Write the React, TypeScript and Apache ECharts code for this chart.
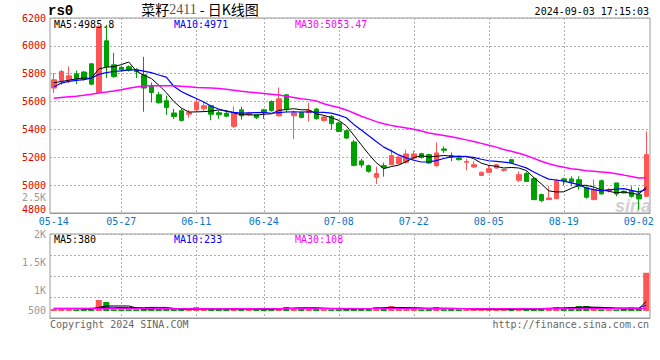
import React, { useEffect, useRef } from 'react';
import * as echarts from 'echarts';

const dates = [
  '05-14','05-15','05-16','05-17','05-20','05-21','05-22','05-23','05-24','05-27',
  '05-28','05-29','05-30','05-31','06-03','06-04','06-05','06-06','06-07','06-11',
  '06-12','06-13','06-14','06-17','06-18','06-19','06-20','06-21','06-24','06-25',
  '06-26','06-27','06-28','07-01','07-02','07-03','07-04','07-05','07-08','07-09',
  '07-10','07-11','07-12','07-15','07-16','07-17','07-18','07-19','07-22','07-23',
  '07-24','07-25','07-26','07-29','07-30','07-31','08-01','08-02','08-05','08-06',
  '08-07','08-08','08-09','08-12','08-13','08-14','08-15','08-16','08-19','08-20',
  '08-21','08-22','08-23','08-26','08-27','08-28','08-29','08-30','09-02','09-03'
];

const opens = [
  5697,5751,5756,5799,5812,5871,5665,6036,5864,5846,
  5850,5828,5792,5708,5649,5606,5518,5534,5509,5541,
  5548,5570,5520,5516,5422,5541,5505,5505,5541,5601,
  5498,5649,5498,5522,5520,5546,5465,5493,5446,5391,
  5310,5174,5140,5056,5140,5147,5154,5164,5195,5226,
  5219,5140,5260,5212,5197,5164,5131,5070,5092,5123,
  5106,5183,5035,5083,5047,4932,4896,4903,5045,5045,
  5039,4984,4896,5032,4961,5016,4956,4961,4932,4920
];
const closes = [
  5756,5816,5785,5761,5761,5725,6138,5852,5780,5828,
  5824,5814,5697,5665,5591,5558,5493,5465,5520,5594,
  5570,5509,5505,5495,5518,5498,5516,5484,5527,5536,
  5620,5546,5518,5486,5534,5477,5489,5441,5386,5338,
  5142,5145,5099,5083,5125,5212,5202,5224,5224,5199,
  5159,5231,5250,5201,5183,5169,5147,5092,5118,5147,
  5113,5164,5075,5027,4896,4889,4908,5034,5032,5023,
  4992,4913,4968,4937,4968,4937,4944,4920,4901,5219
];
const lows = [
  5661,5720,5733,5726,5750,5718,5665,5768,5771,5814,
  5815,5768,5527,5594,5585,5505,5475,5457,5484,5527,
  5527,5466,5477,5488,5410,5470,5495,5475,5475,5527,
  5493,5522,5331,5480,5457,5470,5455,5398,5380,5330,
  5135,5126,5090,5009,5061,5145,5150,5154,5183,5190,
  5152,5131,5231,5171,5177,5106,5123,5065,5087,5118,
  5097,5160,5023,5023,4893,4877,4893,4900,4999,4992,
  4968,4903,4893,4932,4948,4920,4940,4910,4825,4915
];
const highs = [
  5804,5828,5852,5823,5820,5876,6150,6150,5950,5857,
  5860,5840,5921,5737,5670,5642,5548,5548,5541,5620,
  5594,5577,5534,5524,5565,5563,5527,5510,5548,5608,
  5701,5652,5536,5527,5591,5555,5498,5505,5455,5398,
  5325,5190,5147,5133,5161,5255,5210,5255,5247,5233,
  5226,5307,5278,5235,5207,5188,5171,5097,5142,5152,
  5116,5188,5099,5099,5059,4939,4992,5045,5054,5063,
  5063,4992,5040,5040,4977,5016,4960,4992,4982,5386
];

const ma5 = [
  5735,5744,5753,5763,5770,5766,5834,5847,5851,5865,
  5884,5820,5789,5766,5718,5665,5601,5554,5525,5526,
  5528,5532,5540,5535,5519,5505,5506,5502,5509,5512,
  5537,5543,5549,5541,5541,5512,5501,5485,5465,5426,
  5359,5290,5222,5161,5119,5133,5144,5169,5197,5212,
  5202,5207,5213,5208,5205,5207,5190,5158,5142,5135,
  5123,5127,5123,5105,5055,5010,4959,4951,4952,4977,
  4998,4999,4986,4967,4956,4945,4951,4941,4934,4985.8
];
const ma10 = [
  5705,5733,5745,5752,5758,5768,5795,5808,5816,5820,
  5827,5827,5818,5808,5791,5775,5710,5672,5646,5622,
  5597,5566,5547,5530,5523,5517,5519,5521,5522,5516,
  5521,5525,5526,5525,5527,5524,5522,5517,5503,5484,
  5436,5396,5354,5313,5273,5246,5217,5196,5179,5166,
  5167,5176,5191,5203,5209,5204,5199,5186,5175,5170,
  5165,5158,5141,5124,5095,5067,5043,5037,5029,5016,
  5004,4979,4968,4959,4966,4971,4975,4963,4950,4971
];
const ma30 = [
  5624,5629,5634,5639,5645,5652,5661,5668,5676,5685,
  5695,5704,5711,5713,5713,5713,5713,5710,5706,5701,
  5699,5697,5694,5689,5682,5674,5668,5663,5658,5653,
  5648,5639,5630,5621,5614,5605,5584,5570,5557,5540,
  5518,5495,5476,5456,5441,5429,5419,5411,5401,5388,
  5375,5365,5357,5347,5336,5325,5313,5300,5286,5273,
  5256,5243,5229,5213,5192,5172,5153,5139,5128,5117,
  5112,5104,5100,5095,5090,5081,5072,5062,5051,5053.47
];

const volumes = [
  80,80,80,68,68,68,440,360,68,68,
  68,68,68,160,68,68,68,68,68,160,
  68,68,68,68,120,68,68,68,68,68,
  120,160,120,120,120,120,68,68,68,80,
  120,107,107,160,140,200,100,80,107,68,
  68,160,68,120,68,68,68,68,68,68,
  68,68,120,68,120,120,120,160,107,160,
  200,200,100,68,68,60,100,140,100,1530
];
const volMa5 = [
  100,100,100,100,75,73,145,201,201,201,
  201,126,68,86,86,86,86,86,68,86,
  86,86,86,94,86,86,86,86,78,78,
  89,107,118,128,128,128,110,99,89,81,
  81,89,96,115,127,143,141,136,125,111,
  85,97,94,97,97,97,78,78,68,68,
  68,68,78,78,89,99,110,118,125,133,
  149,165,153,146,127,99,79,87,94,380
];
const volMa10 = [
  110,110,110,110,110,110,130,150,150,138,
  137,136,134,144,144,144,106,77,77,86,
  86,86,86,81,86,86,86,86,86,82,
  88,97,102,103,103,108,108,108,108,104,
  104,99,98,102,104,112,115,116,120,119,
  114,119,115,111,104,91,88,86,82,82,
  82,73,78,73,78,84,89,98,102,111,
  124,138,136,136,130,124,122,120,120,233
];
const volMa30 = [
  96,96,96,97,97,97,98,98,98,98,
  97,97,97,96,96,96,95,95,95,95,
  95,95,95,94,94,94,94,94,94,94,
  95,95,96,96,97,97,97,98,98,98,
  99,99,99,100,100,100,100,100,99,99,
  99,98,98,98,97,97,97,96,96,96,
  95,95,95,95,95,95,96,96,96,97,
  97,98,98,98,98,97,97,97,97,108
];

const labelDates = ['05-14','05-27','06-11','06-24','07-08','07-22','08-05','08-19','09-02'];
const gridDates = ['05-27','06-11','06-24','07-08','07-22','08-05','08-19'];
const priceMin = 4800;
const priceMax = 6200;
const priceStep = 200;
const volTickValues = [500, 1000, 1500, 2000];
const volTickLabels = ['500', '1K', '1.5K', '2K'];
const mainExtraLabel = '2.5K';

const UP = '#ff5555';
const DOWN = '#00a000';
const MONO = '"DejaVu Sans Mono", "Liberation Mono", monospace';
const GRID_LINE = { color: '#b0b0b0', type: [2, 2] as any, width: 1 };

function buildOption() {
  const last = dates.length - 1;
  const candleData = dates.map((_, i) => [opens[i], closes[i], lows[i], highs[i]]);
  const volData = volumes.map((v, i) => ({
    value: v,
    itemStyle: { color: closes[i] >= opens[i] ? UP : DOWN },
  }));
  const showLabel = (idx: number, val: string) => labelDates.includes(val);
  const showGrid = (idx: number, val: string) => gridDates.includes(val);

  const xBase = {
    type: 'category',
    data: dates,
    boundaryGap: true,
    axisTick: { show: false },
    axisLine: { show: true, lineStyle: { color: '#999', width: 1 } },
    splitLine: { show: true, interval: showGrid, alignWithLabel: true, lineStyle: GRID_LINE },
  };

  const txt = (text: string, x: number, y: number, fill: string, align = 'left', font = `10px ${MONO}`) => ({
    type: 'text',
    x,
    y,
    z: 100,
    silent: true,
    style: {
      text,
      fill,
      font,
      lineHeight: 10,
      align,
      textAlign: align,
      verticalAlign: 'middle',
      textVerticalAlign: 'middle',
    },
  });

  return {
    animation: false,
    backgroundColor: '#ffffff',
    grid: [
      { left: 50, right: 10, top: 18, height: 195, show: true, borderColor: '#999', borderWidth: 1, backgroundColor: 'transparent' },
      { left: 50, right: 10, top: 234, height: 84, show: true, borderColor: '#999', borderWidth: 1, backgroundColor: 'transparent' },
    ],
    xAxis: [
      {
        ...xBase,
        gridIndex: 0,
        axisLabel: {
          show: true,
          interval: showLabel,
          color: '#0a74c8',
          fontFamily: MONO,
          fontSize: 10,
          lineHeight: 10,
          margin: 3,
        },
      },
      {
        ...xBase,
        gridIndex: 1,
        axisLabel: { show: false },
      },
    ],
    yAxis: [
      {
        type: 'value',
        gridIndex: 0,
        min: priceMin,
        max: priceMax,
        interval: priceStep,
        axisLine: { show: false },
        axisTick: { show: false },
        axisLabel: {
          color: '#e00000',
          fontFamily: MONO,
          fontSize: 10,
          lineHeight: 8,
          margin: 4,
          verticalAlignMinLabel: 'bottom',
          formatter: (v: number) => String(v),
        },
        splitLine: { show: true, lineStyle: GRID_LINE },
      },
      {
        type: 'value',
        gridIndex: 1,
        min: volTickValues[0],
        max: volTickValues[volTickValues.length - 1],
        interval: volTickValues[1] - volTickValues[0],
        axisLine: { show: false },
        axisTick: { show: false },
        axisLabel: {
          color: '#999',
          fontFamily: MONO,
          fontSize: 10,
          lineHeight: 16,
          margin: 4,
          verticalAlignMinLabel: 'bottom',
          formatter: (v: number) => {
            const k = volTickValues.indexOf(v);
            return k >= 0 ? volTickLabels[k] : '';
          },
        },
        splitLine: { show: false },
      },
      {
        type: 'value',
        gridIndex: 1,
        position: 'right',
        min: 0,
        max: 4,
        interval: 1,
        axisLine: { show: false },
        axisTick: { show: false },
        axisLabel: { show: false },
        splitLine: { show: true, lineStyle: GRID_LINE },
      },
      {
        type: 'value',
        gridIndex: 1,
        position: 'right',
        show: false,
        min: -280,
        max: 3080,
        splitLine: { show: false },
      },
    ],
    series: [
      {
        type: 'candlestick',
        xAxisIndex: 0,
        yAxisIndex: 0,
        data: candleData,
        barWidth: 5,
        itemStyle: { color: UP, color0: DOWN, borderColor: UP, borderColor0: DOWN, borderWidth: 1 },
      },
      { type: 'line', xAxisIndex: 0, yAxisIndex: 0, data: ma5, symbol: 'none', lineStyle: { color: '#000', width: 1 } },
      { type: 'line', xAxisIndex: 0, yAxisIndex: 0, data: ma10, symbol: 'none', lineStyle: { color: '#0000ff', width: 1.2 } },
      { type: 'line', xAxisIndex: 0, yAxisIndex: 0, data: ma30, symbol: 'none', lineStyle: { color: '#ff00ff', width: 1.5 } },
      { type: 'bar', xAxisIndex: 1, yAxisIndex: 3, data: volData, barWidth: 6 },
      { type: 'line', xAxisIndex: 1, yAxisIndex: 3, data: volMa5, symbol: 'none', lineStyle: { color: '#000', width: 1 } },
      { type: 'line', xAxisIndex: 1, yAxisIndex: 3, data: volMa10, symbol: 'none', lineStyle: { color: '#0000ff', width: 1 } },
      { type: 'line', xAxisIndex: 1, yAxisIndex: 3, data: volMa30, symbol: 'none', lineStyle: { color: '#ff00ff', width: 1.2 } },
    ],
    graphic: [
      {
        type: 'text',
        x: 651,
        y: 206,
        z: 1,
        silent: true,
        style: {
          text: 'sina',
          fill: '#c4c4c4',
          opacity: 0.8,
          font: 'italic bold 18px "Liberation Sans", Arial, sans-serif',
          align: 'right',
          textAlign: 'right',
          verticalAlign: 'middle',
          textVerticalAlign: 'middle',
        },
      },
      txt('rs0', 48, 11, '#000', 'left', `bold 14px "Liberation Mono", monospace`),
      {
        type: 'text',
        x: 200,
        y: 9,
        z: 100,
        silent: true,
        style: {
          text: '{a|菜籽}{b|2411}{a| - 日K线图}',
          align: 'center',
          textAlign: 'center',
          verticalAlign: 'middle',
          textVerticalAlign: 'middle',
          rich: {
            a: { fill: '#000', color: '#000', font: '14px "Noto Sans CJK SC", sans-serif', fontSize: 14, lineHeight: 14, fontFamily: '"Noto Sans CJK SC", sans-serif' },
            b: { fill: '#555', color: '#555', font: '14px "Liberation Serif", serif', fontSize: 14, lineHeight: 14, fontFamily: '"Liberation Serif", serif' },
          },
        },
      },
      txt('2024-09-03 17:15:03', 649, 11, '#000', 'right'),
      txt(`MA5:${ma5[last]}`, 54, 24.5, '#000'),
      txt(`MA10:${ma10[last]}`, 174, 24.5, '#0000ff'),
      txt(`MA30:${ma30[last]}`, 295, 24.5, '#ff00ff'),
      txt(mainExtraLabel, 46, 197, '#999', 'right'),
      txt(`MA5:${volMa5[last]}`, 54, 239, '#000'),
      txt(`MA10:${volMa10[last]}`, 174, 239, '#0000ff'),
      txt(`MA30:${volMa30[last]}`, 295, 239, '#ff00ff'),
      txt('Copyright 2024 SINA.COM', 50, 324, '#666'),
      txt('http://finance.sina.com.cn', 649, 324, '#666', 'right'),
    ],
  };
}

export default function App() {
  const ref = useRef<HTMLDivElement>(null);
  useEffect(() => {
    if (!ref.current) return;
    const chart = echarts.init(ref.current, null, { renderer: 'svg' });
    chart.setOption(buildOption() as any);
    return () => chart.dispose();
  }, []);
  return (
    <div
      ref={ref}
      style={{ position: 'absolute', left: 0, top: 0, width: 660, height: 360, background: '#fff' }}
    />
  );
}
